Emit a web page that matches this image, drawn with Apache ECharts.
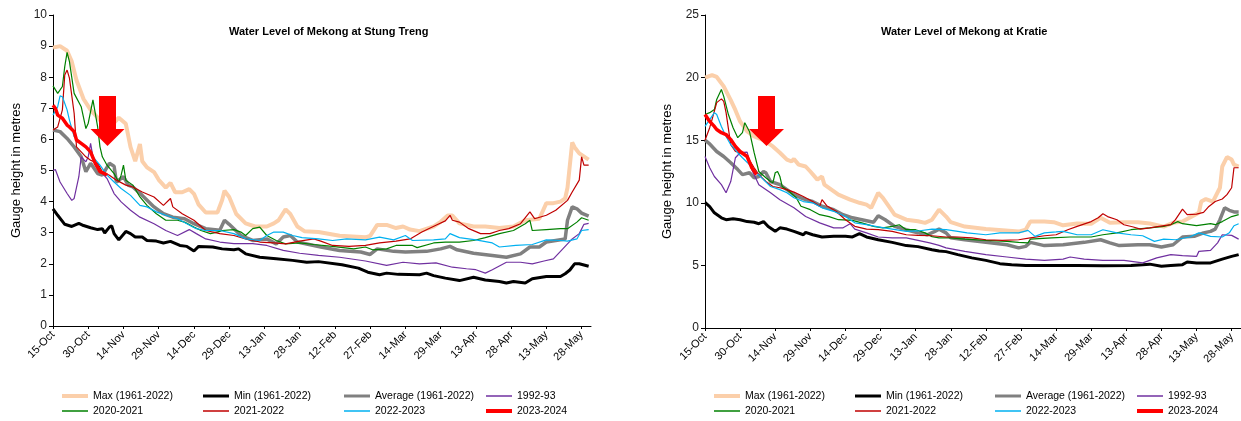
<!DOCTYPE html>
<html>
<head>
<meta charset="utf-8">
<script src="https://cdn.jsdelivr.net/npm/echarts@6/dist/echarts.min.js"></script>
<style>
  html, body { margin: 0; padding: 0; background: #fff; }
  #main { width: 1241px; height: 421px; }
</style>
</head>
<body>
<div id="main"></div>
<script>
// x is days since 15-Oct (31-May = 228)
var tickDays = [0, 15, 30, 45, 60, 75, 90, 105, 120, 135, 150, 165, 180, 195, 210, 225];
var tickLabels = ['15-Oct', '30-Oct', '14-Nov', '29-Nov', '14-Dec', '29-Dec', '13-Jan', '28-Jan',
    '12-Feb', '27-Feb', '14-Mar', '29-Mar', '13-Apr', '28-Apr', '13-May', '28-May'];
var seriesNames = ['Max (1961-2022)', 'Min (1961-2022)', 'Average (1961-2022)', '1992-93',
    '2020-2021', '2021-2022', '2022-2023', '2023-2024'];

// Stung Treng
var stMax = [[0,8.95],[3,9.0],[6,8.85],[8,8.5],[10,7.9],[13,7.3],[16,6.95],[19,6.7],[22,6.45],[25,6.45],[28,6.7],[31,6.5],[33,5.75],[35,5.3],[37,5.85],[38,5.3],[40,5.1],[43,4.95],[45,4.7],[48,4.45],[50,4.6],[52,4.3],[55,4.3],[58,4.4],[60,4.25],[62,3.9],[65,3.65],[70,3.65],[72,4.05],[73,4.35],[75,4.15],[78,3.6],[82,3.3],[86,3.2],[91,3.2],[94,3.3],[96,3.4],[99,3.75],[101,3.6],[104,3.2],[107,3.05],[113,3.02],[122,2.9],[133,2.85],[135,2.9],[138,3.25],[142,3.25],[146,3.15],[149,3.2],[152,3.1],[156,3.05],[162,3.2],[165,3.35],[168,3.55],[170,3.55],[173,3.3],[179,3.2],[184,3.2],[190,3.15],[196,3.2],[201,3.4],[207,3.45],[210,3.95],[213,3.95],[216,4.0],[218,4.1],[219,4.45],[221,5.9],[222,5.75],[224,5.55],[225,5.5],[227,5.4],[228,5.35]];
var stMin = [[0,3.77],[2,3.56],[5,3.27],[8,3.2],[11,3.3],[13,3.23],[16,3.16],[19,3.1],[21,3.13],[22,2.99],[24,3.18],[25,3.22],[26,2.97],[28,2.77],[31,3.04],[33,2.97],[35,2.86],[38,2.86],[40,2.75],[44,2.73],[47,2.67],[50,2.72],[54,2.59],[57,2.56],[60,2.41],[62,2.56],[68,2.54],[72,2.48],[77,2.45],[79,2.48],[82,2.32],[88,2.21],[95,2.16],[102,2.11],[108,2.05],[113,2.07],[123,1.97],[130,1.86],[134,1.73],[139,1.65],[142,1.7],[147,1.66],[156,1.65],[159,1.7],[162,1.62],[167,1.54],[173,1.46],[179,1.57],[184,1.48],[190,1.43],[193,1.38],[196,1.43],[201,1.38],[204,1.52],[210,1.59],[216,1.59],[218,1.68],[220,1.8],[222,2.0],[224,2.0],[228,1.92]];
var stAvg = [[0,6.3],[3,6.25],[6,6.03],[9,5.76],[12,5.44],[14,4.96],[16,5.23],[19,4.9],[21,4.85],[24,5.23],[26,5.14],[27,4.63],[30,4.8],[32,4.53],[34,4.47],[38,4.2],[43,3.83],[47,3.61],[51,3.5],[56,3.45],[60,3.29],[65,3.13],[71,3.08],[73,3.4],[75,3.27],[80,2.91],[85,2.75],[91,2.8],[95,2.64],[98,2.86],[101,2.91],[104,2.7],[111,2.59],[114,2.54],[122,2.43],[131,2.38],[135,2.3],[138,2.48],[145,2.4],[150,2.38],[159,2.4],[165,2.48],[169,2.56],[172,2.45],[179,2.34],[187,2.27],[193,2.21],[199,2.32],[203,2.54],[207,2.54],[210,2.7],[214,2.75],[218,2.8],[219,3.4],[221,3.83],[223,3.77],[225,3.63],[228,3.53]];
var st1992 = [[0,5.0],[1,5.03],[3,4.63],[6,4.26],[8,4.04],[9,4.1],[11,4.8],[12,5.44],[14,5.28],[15,5.44],[16,5.87],[17,5.44],[20,5.0],[23,4.74],[26,4.26],[29,3.99],[33,3.72],[37,3.5],[43,3.29],[48,3.07],[53,2.91],[58,3.1],[61,2.97],[65,2.8],[71,2.7],[77,2.65],[85,2.65],[91,2.59],[98,2.43],[105,2.34],[113,2.27],[122,2.21],[133,2.09],[142,1.95],[149,2.05],[156,2.0],[163,2.03],[170,1.89],[176,1.84],[180,1.81],[184,1.7],[187,1.81],[193,2.05],[199,2.05],[204,2.0],[209,2.09],[213,2.16],[217,2.48],[221,2.8],[224,2.97],[226,3.27],[228,3.3]];
var st2020 = [[0,7.72],[2,7.48],[4,7.7],[5,8.34],[6,8.8],[7,8.5],[9,7.48],[12,7.05],[14,6.35],[15,6.52],[17,7.27],[19,6.4],[20,5.76],[21,5.44],[23,5.17],[26,4.9],[28,4.63],[29,4.85],[30,5.17],[31,4.69],[34,4.53],[37,4.15],[40,3.88],[44,3.61],[48,3.4],[53,3.4],[56,3.34],[60,3.18],[63,3.07],[67,2.97],[70,3.02],[72,3.07],[77,3.1],[80,3.02],[82,2.91],[85,3.13],[88,3.18],[91,2.91],[95,2.75],[99,2.64],[105,2.67],[111,2.62],[119,2.56],[128,2.48],[133,2.54],[136,2.45],[142,2.48],[146,2.59],[153,2.59],[155,2.52],[162,2.67],[167,2.7],[173,2.7],[179,2.75],[184,2.84],[190,2.97],[196,3.07],[201,3.29],[203,3.4],[204,3.07],[210,3.1],[216,3.13],[219,3.13],[223,3.34],[225,3.48],[228,3.4]];
var st2021 = [[0,6.3],[2,6.4],[4,6.95],[5,8.07],[6,8.23],[7,7.97],[9,6.84],[10,5.76],[12,5.6],[14,5.44],[16,5.33],[19,5.23],[21,4.96],[24,4.85],[27,4.69],[31,4.53],[34,4.47],[38,4.31],[43,4.15],[47,3.88],[50,4.1],[51,3.83],[55,3.61],[60,3.4],[65,3.07],[71,2.97],[77,2.91],[82,2.8],[88,2.7],[94,2.67],[99,2.64],[105,2.73],[111,2.8],[114,2.73],[119,2.59],[126,2.56],[133,2.59],[139,2.67],[146,2.73],[152,2.8],[157,3.02],[163,3.24],[167,3.38],[169,3.56],[170,3.4],[173,3.34],[177,3.13],[182,2.97],[186,2.97],[190,3.07],[194,3.13],[199,3.29],[203,3.67],[205,3.45],[210,3.56],[214,3.72],[219,4.04],[221,4.31],[224,4.69],[225,5.44],[226,5.17],[228,5.17]];
var st2022 = [[0,6.78],[2,7.05],[3,7.4],[4,7.37],[6,6.95],[7,6.62],[9,6.09],[12,5.87],[14,5.76],[17,5.44],[20,5.17],[23,4.85],[26,4.63],[29,4.42],[33,4.2],[37,3.88],[40,3.83],[44,3.67],[48,3.56],[53,3.45],[57,3.29],[61,3.13],[65,3.07],[71,3.07],[77,2.97],[82,2.8],[88,2.75],[91,2.91],[94,3.02],[98,3.02],[102,2.91],[106,2.84],[113,2.8],[119,2.75],[125,2.8],[133,2.77],[139,2.86],[145,2.77],[150,2.91],[153,2.75],[162,2.77],[167,2.8],[169,2.97],[173,2.84],[180,2.77],[187,2.67],[190,2.54],[197,2.59],[204,2.62],[210,2.77],[216,2.75],[219,2.73],[223,2.8],[225,3.07],[228,3.1]];
var st2023 = [[0,7.1],[1,7.0],[2,6.78],[4,6.68],[6,6.46],[7,6.4],[9,6.25],[10,5.98],[12,5.87],[14,5.76],[16,5.6],[18,5.23],[20,4.96],[22,4.9],[23,4.85]];

// Kratie
var krMax = [[0,20.0],[3,20.2],[5,20.05],[8,19.3],[11,18.2],[13,17.4],[15,16.5],[18,15.7],[21,15.3],[25,15.0],[29,14.5],[32,14.0],[35,13.45],[37,13.3],[38,13.5],[40,13.05],[43,12.9],[45,12.5],[48,11.85],[50,12.1],[51,11.45],[54,11.05],[57,10.65],[62,10.25],[66,10.0],[69,9.85],[71,9.6],[73,10.4],[74,10.8],[76,10.4],[79,9.6],[81,9.05],[86,8.65],[91,8.52],[94,8.4],[97,8.65],[100,9.45],[103,8.9],[105,8.45],[111,8.1],[120,7.9],[127,7.8],[134,7.7],[137,7.85],[139,8.5],[145,8.5],[149,8.45],[153,8.2],[159,8.35],[165,8.33],[169,8.8],[173,8.4],[179,8.45],[185,8.45],[190,8.35],[196,8.1],[200,8.4],[204,8.5],[211,9.2],[212,10.1],[214,10.3],[217,10.1],[220,11.2],[221,12.9],[223,13.65],[225,13.45],[226,13.05],[228,12.9]];
var krMin = [[0,10.04],[2,9.7],[4,9.2],[7,8.8],[9,8.65],[12,8.73],[15,8.65],[18,8.5],[21,8.45],[23,8.33],[25,8.5],[27,8.1],[30,7.72],[32,8.0],[35,7.9],[38,7.72],[42,7.45],[43,7.64],[46,7.45],[50,7.27],[55,7.32],[60,7.32],[63,7.27],[66,7.53],[69,7.27],[74,7.05],[80,6.84],[86,6.58],[91,6.5],[97,6.25],[100,6.15],[103,6.1],[108,5.86],[114,5.6],[120,5.4],[126,5.14],[131,5.06],[137,5.0],[148,5.0],[159,5.0],[170,4.98],[182,5.0],[187,5.06],[190,5.1],[195,4.93],[199,5.0],[204,5.06],[206,5.27],[210,5.2],[216,5.2],[218,5.32],[221,5.5],[225,5.72],[228,5.86]];
var krAvg = [[0,15.0],[2,14.7],[5,14.1],[8,13.7],[11,13.2],[14,12.65],[16,12.25],[19,12.4],[21,12.0],[23,12.1],[25,12.5],[26,12.4],[28,11.7],[32,11.45],[35,11.05],[38,10.65],[41,10.4],[43,10.25],[46,10.1],[50,9.72],[55,9.45],[59,9.05],[63,8.8],[67,8.65],[72,8.45],[74,8.97],[77,8.65],[81,8.12],[86,7.85],[91,7.6],[95,7.45],[98,7.7],[100,7.9],[103,7.6],[105,7.2],[111,7.05],[120,6.84],[129,6.65],[134,6.4],[137,6.52],[139,6.84],[145,6.58],[153,6.65],[162,6.84],[169,7.05],[173,6.8],[177,6.58],[185,6.65],[190,6.65],[195,6.47],[200,6.65],[204,7.27],[209,7.32],[213,7.6],[216,7.72],[218,7.9],[220,8.65],[222,9.6],[224,9.4],[226,9.27],[228,9.27]];
var kr1992 = [[0,13.7],[2,12.8],[4,12.1],[7,11.45],[9,10.8],[11,11.7],[13,13.6],[15,14.0],[18,14.05],[20,12.65],[23,11.45],[28,10.8],[32,10.25],[38,9.6],[43,8.9],[49,8.4],[55,8.0],[59,8.0],[62,8.33],[64,7.9],[69,7.6],[74,7.27],[80,7.2],[86,7.2],[91,7.0],[96,6.8],[100,6.6],[103,6.4],[111,6.12],[120,5.86],[129,5.67],[137,5.5],[145,5.4],[153,5.5],[156,5.67],[162,5.5],[170,5.4],[179,5.4],[187,5.2],[193,5.6],[199,5.86],[204,5.78],[210,5.72],[211,6.12],[216,6.2],[219,6.8],[221,7.45],[225,7.4],[228,7.1]];
var kr2020 = [[0,17.05],[2,17.2],[4,17.45],[5,18.25],[7,19.05],[8,18.5],[10,17.05],[12,16.0],[14,15.2],[16,15.6],[17,16.4],[19,15.7],[21,14.0],[23,12.5],[26,12.0],[28,11.7],[29,11.6],[30,12.4],[31,12.5],[32,12.1],[33,11.3],[36,10.9],[39,10.4],[41,9.72],[45,9.45],[49,9.05],[53,8.9],[57,8.65],[63,8.6],[67,8.4],[72,8.12],[76,8.0],[80,8.12],[83,8.25],[86,7.85],[90,7.85],[94,7.6],[97,7.3],[100,7.2],[105,7.2],[111,7.1],[120,7.0],[129,6.92],[134,6.84],[138,6.8],[139,7.1],[148,7.2],[156,7.27],[165,7.27],[170,7.45],[176,7.6],[182,7.85],[190,8.0],[196,8.12],[199,8.25],[202,8.5],[204,8.33],[210,8.17],[216,8.33],[218,8.25],[221,8.5],[225,8.9],[228,9.05]];
var kr2021 = [[0,15.0],[2,16.0],[3,16.65],[5,18.0],[7,18.3],[8,18.1],[9,17.2],[11,14.65],[13,14.1],[15,14.0],[18,13.7],[21,12.8],[23,12.25],[26,11.7],[29,11.3],[32,11.2],[35,11.05],[38,10.85],[42,10.5],[46,10.1],[49,9.72],[50,10.25],[52,9.77],[56,9.32],[60,8.65],[64,8.12],[69,7.9],[74,7.85],[80,7.72],[86,7.45],[91,7.4],[97,7.37],[103,7.27],[108,7.27],[114,7.2],[120,7.05],[127,7.0],[134,7.05],[139,7.2],[145,7.37],[150,7.45],[155,7.85],[159,8.12],[165,8.5],[168,8.8],[170,9.13],[172,8.9],[176,8.65],[179,8.25],[183,8.07],[186,7.9],[190,8.0],[194,8.12],[199,8.25],[201,8.65],[204,9.5],[206,9.05],[210,9.1],[213,9.24],[215,9.66],[218,10.1],[221,10.3],[223,10.65],[225,11.2],[226,12.8],[228,12.8]];
var kr2022 = [[0,16.1],[2,16.65],[4,17.2],[5,17.05],[7,16.1],[9,15.3],[11,14.65],[14,14.0],[16,13.6],[19,13.05],[22,12.4],[25,11.85],[28,11.3],[32,11.05],[35,10.8],[38,10.4],[42,10.1],[46,10.0],[50,9.6],[55,9.32],[60,8.9],[64,8.4],[69,8.25],[74,8.07],[80,7.9],[86,7.72],[91,7.75],[97,7.9],[103,7.85],[108,7.72],[112,7.6],[120,7.45],[126,7.6],[134,7.6],[138,7.8],[141,7.32],[145,7.6],[150,7.67],[153,7.72],[159,7.45],[165,7.45],[170,7.85],[176,7.6],[182,7.45],[187,7.37],[192,6.92],[196,7.1],[201,7.05],[207,7.27],[211,7.6],[216,7.32],[221,7.27],[224,7.6],[226,8.17],[228,8.33]];
var kr2023 = [[0,17.05],[2,16.5],[4,16.1],[5,15.85],[7,15.6],[9,15.45],[11,15.05],[13,14.5],[15,14.1],[18,13.7],[20,12.8],[22,12.25]];

var stationData = [
    [stMax, stMin, stAvg, st1992, st2020, st2021, st2022, st2023],
    [krMax, krMin, krAvg, kr1992, kr2020, kr2021, kr2022, kr2023]
];

var colors = ['#FBCFAA', '#000000', '#808080', '#7030A0', '#008000', '#C00000', '#00B0F0', '#FF0000'];
var widths = [4, 3, 3.5, 1.2, 1.2, 1.2, 1.2, 3.5];
var legendThick = [4, 3, 3, 1.5, 1.5, 1.5, 1.5, 4];
var fontFamily = 'Liberation Sans, Arial, sans-serif';

var legendCols = [[62, 203, 344, 486], [714, 855, 995, 1137]];
var legendRows = [396, 411];

var myChart = echarts.init(document.getElementById('main'));

function xAxisFor(gi) {
    return {
        gridIndex: gi,
        type: 'value',
        min: 0,
        max: 229,
        axisLine: {lineStyle: {color: '#000', width: 1}},
        axisTick: {customValues: tickDays, length: 3, lineStyle: {color: '#000'}},
        axisLabel: {
            customValues: tickDays,
            rotate: 45,
            margin: 7,
            fontSize: 11,
            color: '#000',
            fontFamily: fontFamily,
            formatter: function (v) {
                var i = tickDays.indexOf(Math.round(v));
                return i >= 0 ? tickLabels[i] : '';
            }
        },
        splitLine: {show: false}
    };
}

function yAxisFor(gi, max, interval, gap) {
    return {
        gridIndex: gi,
        type: 'value',
        min: 0,
        max: max,
        interval: interval,
        name: 'Gauge height in metres',
        nameLocation: 'middle',
        nameGap: gap,
        nameTextStyle: {fontSize: 13, color: '#000', fontFamily: fontFamily},
        axisLine: {show: true, lineStyle: {color: '#000', width: 1}},
        axisTick: {show: true, length: 4, lineStyle: {color: '#000'}},
        axisLabel: {fontSize: 12, color: '#222', margin: 6, fontFamily: fontFamily},
        splitLine: {show: false}
    };
}

var series = [];
var legends = [];
stationData.forEach(function (lines, gi) {
    lines.forEach(function (data, k) {
        series.push({
            name: seriesNames[k],
            type: 'line',
            xAxisIndex: gi,
            yAxisIndex: gi,
            data: data,
            symbol: 'none',
            silent: true,
            lineStyle: {color: colors[k], width: widths[k]},
            itemStyle: {color: colors[k]},
            z: 2 + k
        });
        legends.push({
            data: [{name: seriesNames[k], icon: 'rect'}],
            left: legendCols[gi][k % 4],
            top: legendRows[k < 4 ? 0 : 1] - 7,
            padding: 0,
            itemWidth: 26,
            itemHeight: legendThick[k],
            selectedMode: false,
            itemStyle: {color: colors[k], borderWidth: 0},
            textStyle: {fontSize: 10.5, color: '#000', fontFamily: fontFamily, lineHeight: 14}
        });
    });
});

var option = {
    animation: false,
    backgroundColor: '#fff',
    textStyle: {fontFamily: fontFamily},
    title: [{
        text: 'Water Level of Mekong at Stung Treng',
        left: 224,
        top: 21,
        textStyle: {fontSize: 11, fontWeight: 'bold', color: '#000', fontFamily: fontFamily}
    }, {
        text: 'Water Level of Mekong at Kratie',
        left: 876,
        top: 21,
        textStyle: {fontSize: 11, fontWeight: 'bold', color: '#000', fontFamily: fontFamily}
    }],
    grid: [
        {left: 53, right: 650, top: 15, bottom: 95},
        {left: 705, right: -4, top: 15, bottom: 93}
    ],
    xAxis: [xAxisFor(0), xAxisFor(1)],
    yAxis: [yAxisFor(0, 10, 1, 30), yAxisFor(1, 25, 5, 31)],
    legend: legends,
    series: series,
    graphic: [{
        type: 'polygon',
        shape: {points: [[99, 96], [116, 96], [116, 129], [124.5, 129], [107.5, 146], [90.5, 129], [99, 129]]},
        style: {fill: '#FF0000'},
        z: 100
    }, {
        type: 'polygon',
        shape: {points: [[758, 96], [775, 96], [775, 129], [784, 129], [766.5, 146], [749, 129], [758, 129]]},
        style: {fill: '#FF0000'},
        z: 100
    }]
};

myChart.setOption(option);
</script>
</body>
</html>
